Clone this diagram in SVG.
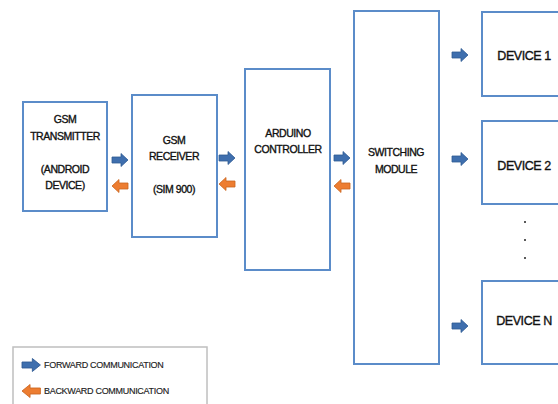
<svg xmlns="http://www.w3.org/2000/svg" width="558" height="404" viewBox="0 0 558 404">
<style>
.box{fill:#fff;stroke:#5b8cc9;stroke-width:2}
.t{font-family:"Liberation Sans",Arial,sans-serif;font-size:10.5px;fill:#111;text-anchor:middle;letter-spacing:-0.45px;stroke:#111;stroke-width:0.35}
.d{font-size:12.5px}
.lg{font-family:"Liberation Sans",Arial,sans-serif;font-size:9px;fill:#222;letter-spacing:-0.3px;stroke:#222;stroke-width:0.15}
.fw{fill:#3f6fae;stroke:#2f5a93;stroke-width:0.8}
.bw{fill:#ed7d31;stroke:#c9641f;stroke-width:0.8}
</style>
<defs>
<path id="ra" d="M0,-3 H9 V-6.5 L16,0 L9,6.5 V3 H0 Z"/>
<path id="la" d="M16,-3 H7 V-6.5 L0,0 L7,6.5 V3 H16 Z"/>
</defs>
<rect width="558" height="404" fill="#fff"/>
<g id="gsm-transmitter">
<rect class="box" x="23" y="102" width="84" height="109"/>
<text class="t" x="65" y="123">GSM</text>
<text class="t" x="65" y="140">TRANSMITTER</text>
<text class="t" x="65" y="173">(ANDROID</text>
<text class="t" x="65" y="189">DEVICE)</text>
</g>
<g id="gsm-receiver">
<rect class="box" x="132" y="95" width="85" height="142"/>
<text class="t" x="174" y="144">GSM</text>
<text class="t" x="174" y="160">RECEIVER</text>
<text class="t" x="174" y="193">(SIM 900)</text>
</g>
<g id="arduino">
<rect class="box" x="245" y="69" width="85" height="201"/>
<text class="t" x="288" y="137">ARDUINO</text>
<text class="t" x="288" y="153">CONTROLLER</text>
</g>
<g id="switching">
<rect class="box" x="354" y="11" width="85" height="353"/>
<text class="t" x="396" y="156">SWITCHING</text>
<text class="t" x="396" y="173">MODULE</text>
</g>
<g id="device1">
<rect class="box" x="482" y="12" width="90" height="84"/>
<text class="t d" x="524" y="60">DEVICE 1</text>
</g>
<g id="device2">
<rect class="box" x="482" y="121" width="90" height="83"/>
<text class="t d" x="524" y="170">DEVICE 2</text>
</g>
<g id="dots" fill="#222">
<circle cx="525" cy="222" r="1"/>
<circle cx="525" cy="240" r="1"/>
<circle cx="525" cy="258" r="1"/>
</g>
<g id="deviceN">
<rect class="box" x="482" y="281" width="90" height="83"/>
<text class="t d" x="524" y="325">DEVICE N</text>
</g>
<g id="connectors">
<use href="#ra" class="fw" transform="translate(112,160)"/>
<use href="#la" class="bw" transform="translate(112,186)"/>
<use href="#ra" class="fw" transform="translate(219,158)"/>
<use href="#la" class="bw" transform="translate(219,184)"/>
<use href="#ra" class="fw" transform="translate(334,158)"/>
<use href="#la" class="bw" transform="translate(334,186)"/>
<use href="#ra" class="fw" transform="translate(452,55)"/>
<use href="#ra" class="fw" transform="translate(452,159)"/>
<use href="#ra" class="fw" transform="translate(452,326)"/>
</g>
<g id="legend">
<rect x="13" y="347" width="194" height="70" fill="#fff" stroke="#bfbfbf" stroke-width="1.5"/>
<use href="#ra" class="fw" transform="translate(22,365) scale(1.15,1)"/>
<text class="lg" x="44" y="368">FORWARD COMMUNICATION</text>
<use href="#la" class="bw" transform="translate(22,391) scale(1.15,1)"/>
<text class="lg" x="44" y="394">BACKWARD COMMUNICATION</text>
</g>
</svg>
